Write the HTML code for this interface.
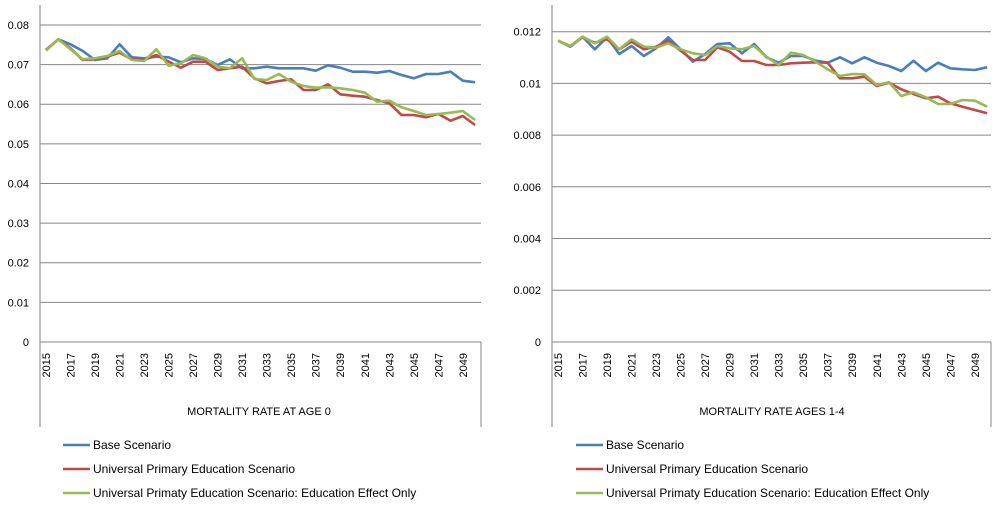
<!DOCTYPE html>
<html><head><meta charset="utf-8"><style>
body{margin:0;background:#fff;width:997px;height:508px;overflow:hidden;font-family:"Liberation Sans",sans-serif}
</style></head><body>
<svg id="s" width="997" height="508" xmlns="http://www.w3.org/2000/svg" font-family="Liberation Sans, sans-serif" font-size="11" fill="#000"></svg>
<script>
var s=document.getElementById('s'),h='';
function L(x1,y1,x2,y2,c,w){h+='<line x1="'+x1+'" y1="'+y1+'" x2="'+x2+'" y2="'+y2+'" stroke="'+c+'" stroke-width="'+(w||1)+'"/>';}
function T(x,y,t,a,extra){h+='<text x="'+x+'" y="'+y+'" text-anchor="'+(a||'start')+'" '+(extra||'')+'>'+t+'</text>';}
function chart(ax,right,x0,step,yt,labels,title,tcx,data,lx){
  for(var i=0;i<labels.length;i++){var y=yt[i];L(ax,y,right,y,'#868686',1);T(ax-11,y+4,labels[i],'end');}
  L(ax,5,ax,427,'#868686',1);L(right,342,right,427,'#868686',1);
  for(var yr=0;yr<35;yr+=2){var x=x0+yr*step+4;T(x,353,2015+yr,'end','transform="rotate(-90 '+x+' 353)"');}
  T(tcx,415,title,'middle');
  var cols=['#4a7ebb','#be4b48','#98b954'];
  for(var k=0;k<3;k++){var p=data[k].map(function(z,i){return (x0+i*step).toFixed(1)+','+(z/3).toFixed(1)}).join(' ');
    h+='<polyline points="'+p+'" fill="none" stroke="'+cols[k]+'" stroke-width="2.6" stroke-linejoin="round"/>';}
  var names=['Base Scenario','Universal Primary Education Scenario','Universal Primaty Education Scenario: Education Effect Only'];
  for(var k=0;k<3;k++){var y=445+24*k;L(lx,y,lx+27,y,cols[k],2.5);T(lx+30,y+4,names[k],'start','font-size="12"');}
}
var lb=[150,118,133,153,180,175,133,172,175,170,172,187,175,177,195,178,205,205,200,205,205,205,212,196,203,215,215,218,213,225,235,222,222,215,242,247];
var lr=[150,118,145,180,178,170,158,178,180,165,185,203,185,185,210,205,200,235,250,243,238,270,270,253,283,287,290,300,310,345,345,352,342,362,348,375];
var lg=[152,118,148,178,175,168,153,180,183,148,197,190,165,175,200,205,175,237,240,222,245,258,263,262,265,270,278,305,302,322,333,345,342,338,333,360];
chart(40,481,46,12.26,[25,64.6,104.2,143.9,183.5,223.1,262.7,302.4,342],['0.08','0.07','0.06','0.05','0.04','0.03','0.02','0.01','0'],'MORTALITY RATE AT AGE 0',259,[lb,lr,lg],63);
var rb=[122,140,110,148,112,162,138,168,145,112,148,185,162,132,130,160,132,172,188,168,168,182,188,172,190,172,188,198,213,182,213,188,205,208,210,202];
var rr=[122,138,112,128,118,148,125,148,140,122,152,180,180,142,155,183,183,195,195,190,188,187,188,235,235,230,258,248,268,282,295,290,310,320,330,340];
var rg=[122,138,110,130,110,148,118,140,143,130,148,160,165,138,145,148,138,170,195,158,165,185,208,228,222,223,255,247,288,277,292,312,312,300,302,320];
chart(552,991,558,12.26,[31.7,83.4,135.1,186.8,238.5,290.2,342],['0.012','0.01','0.008','0.006','0.004','0.002','0'],'MORTALITY RATE AGES 1-4',772,[rb,rr,rg],576);
s.innerHTML=h;
</script>
</body></html>
